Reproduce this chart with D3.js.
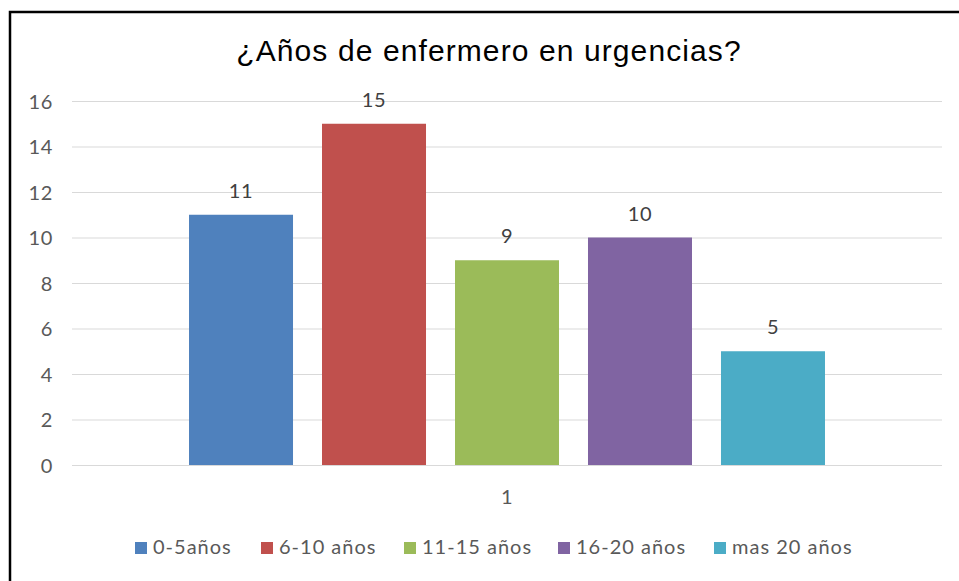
<!DOCTYPE html>
<html>
<head>
<meta charset="utf-8">
<script src="https://cdn.jsdelivr.net/npm/d3@7"></script>
<style>
  body { margin: 0; background: #fff; }
  svg { display: block; }
  .tick text { font-family: Lato, "Open Sans", sans-serif; font-size: 20px; letter-spacing: 0.6px; fill: #595959; }
</style>
</head>
<body>
<div id="chart"></div>
<script>
const categories = ["1"];
const seriesNames = ["0-5años", "6-10 años", "11-15 años", "16-20 años", "mas 20 años"];
const seriesValues = [11, 15, 9, 10, 5];
const seriesColors = ["#4F81BD", "#C0504D", "#9BBB59", "#8064A2", "#4BACC6"];
const yTicks = [0, 2, 4, 6, 8, 10, 12, 14, 16];

const svgWidth = 959;
const svgHeight = 581;

const margin = {
  top: 101,
  right: 17,
  bottom: 116,
  left: 72
};

const width = svgWidth - margin.left - margin.right;
const height = svgHeight - margin.top - margin.bottom;

const svg = d3
  .select("#chart")
  .append("svg")
  .attr("width", svgWidth)
  .attr("height", svgHeight);

// black frame, runs off the right and bottom edge like the screenshot
svg.append("rect")
  .attr("x", 10)
  .attr("y", 12)
  .attr("width", 1000)
  .attr("height", 1000)
  .attr("fill", "none")
  .attr("stroke", "#000")
  .attr("stroke-width", 2.5);

svg.append("text")
  .attr("x", 489)
  .attr("y", 61)
  .attr("text-anchor", "middle")
  .style("font-family", "'Liberation Sans', Arial, sans-serif")
  .style("font-size", "30px")
  .style("letter-spacing", "1.1px")
  .style("fill", "#000")
  .text("¿Años de enfermero en urgencias?");

const chartGroup = svg.append("g")
  .attr("transform", `translate(${margin.left}, ${margin.top})`);

const yLinearScale = d3.scaleLinear()
  .domain([0, 16])
  .range([height, 0]);

const x0 = d3.scaleBand()
  .domain(categories)
  .range([0, width]);

// Excel gap width leaves ~13.5% on each side of the group
const side = x0.bandwidth() * 0.1345;
const x1 = d3.scaleBand()
  .domain(seriesNames)
  .range([side, x0.bandwidth() - side])
  .paddingInner(0.218);

// gridlines
const leftAxis = d3.axisLeft(yLinearScale)
  .tickValues(yTicks)
  .tickSize(-width)
  .tickPadding(19);

const yAxis = chartGroup.append("g")
  .call(leftAxis);
yAxis.select(".domain").remove();
yAxis.selectAll(".tick line")
  .attr("stroke", "#D9D9D9")
  .attr("stroke-width", 1);
yAxis.selectAll(".tick text")
  .attr("dy", "0.36em");

const bottomAxis = d3.axisBottom(x0).tickSize(0).tickPadding(25);
const xAxis = chartGroup.append("g")
  .attr("transform", `translate(0, ${height})`)
  .call(bottomAxis);
xAxis.select(".domain").remove();

const rows = seriesNames.map((name, i) => ({ name: name, value: seriesValues[i], color: seriesColors[i] }));

const barGroup = chartGroup.selectAll("g.cat")
  .data(categories)
  .enter()
  .append("g")
  .attr("class", "cat")
  .attr("transform", d => `translate(${x0(d)}, 0)`);

barGroup.selectAll("rect")
  .data(rows)
  .enter()
  .append("rect")
  .attr("x", d => x1(d.name))
  .attr("y", d => yLinearScale(d.value))
  .attr("width", x1.bandwidth())
  .attr("height", d => height - yLinearScale(d.value))
  .attr("fill", d => d.color);

barGroup.selectAll("text.val")
  .data(rows)
  .enter()
  .append("text")
  .attr("class", "val")
  .attr("x", d => x1(d.name) + x1.bandwidth() / 2)
  .attr("y", d => yLinearScale(d.value) - 17)
  .attr("text-anchor", "middle")
  .style("font-family", "Lato, 'Open Sans', sans-serif")
  .style("font-size", "20px")
  .style("letter-spacing", "0.6px")
  .style("fill", "#404040")
  .text(d => d.value);

// legend
const legendX = [135, 261, 404, 558, 714];
const legend = svg.append("g");
const items = legend.selectAll("g")
  .data(rows)
  .enter()
  .append("g")
  .attr("transform", (d, i) => `translate(${legendX[i]}, 542)`);

items.append("rect")
  .attr("width", 12)
  .attr("height", 12)
  .attr("fill", d => d.color);

items.append("text")
  .attr("x", 18)
  .attr("y", 12)
  .style("font-family", "Lato, 'Open Sans', sans-serif")
  .style("font-size", "20px")
  .style("letter-spacing", "1px")
  .style("fill", "#595959")
  .text(d => d.name);
</script>
</body>
</html>
